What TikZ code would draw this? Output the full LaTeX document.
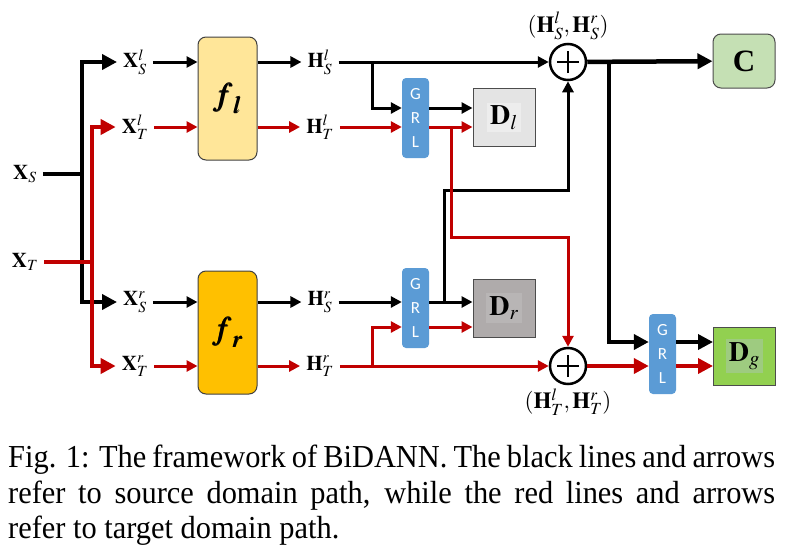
\documentclass[tikz,border=0pt]{standalone}
\usepackage{mathptmx}
\usepackage{bm}
\usepackage{fontspec}
\setmainfont{Liberation Serif}
\newfontfamily\grlfont{Carlito}
\newfontfamily\capfont[FakeStretch=0.95]{Liberation Serif}
\usetikzlibrary{arrows.meta}
\definecolor{tred}{HTML}{C00000}
\definecolor{flcol}{HTML}{FFE699}
\definecolor{frcol}{HTML}{FFC000}
\definecolor{grlcol}{HTML}{5B9BD5}
\definecolor{dlcol}{HTML}{E4E4E4}
\definecolor{dlin}{HTML}{EDEDED}
\definecolor{drcol}{HTML}{AFABAB}
\definecolor{drin}{HTML}{B8B5B5}
\definecolor{dgcol}{HTML}{92D050}
\definecolor{dgin}{HTML}{9ECB80}
\definecolor{ccol}{HTML}{C5E0B4}
\begin{document}
\begin{tikzpicture}
    [x=1pt, y=-1pt,
     lab/.style = {font=\fontsize{21}{25}\selectfont, inner xsep=6pt, inner ysep=2pt},
     sumlab/.style = {font=\fontsize{23}{27}\selectfont, inner sep=2pt},
     src/.style = {draw=black, line width=3pt},
     tgt/.style = {draw=tred, line width=3pt},
     srcthick/.style = {draw=black, line width=4.5pt},
     tgtthick/.style = {draw=tred, line width=4.5pt},
     arr/.style = {-{Triangle[length=11pt, width=11pt]}},
     bigarr/.style = {-{Triangle[length=15pt, width=15pt]}},
     fbox/.style = {draw=black!75, line width=1pt, rounded corners=8pt, minimum width=59pt, minimum height=123pt, inner sep=0pt, font=\fontsize{32}{32}\selectfont},
     grl/.style = {fill=grlcol, rounded corners=4pt, minimum width=27pt, minimum height=80pt, inner sep=0pt, text=white, align=center, font=\grlfont\fontsize{17}{24}\selectfont},
     dbox/.style = {draw=black!70, line width=1pt, minimum width=62pt, minimum height=58pt, inner sep=0pt},
     dlab/.style = {inner sep=3pt, font=\fontsize{28}{30}\selectfont},
     sum/.style = {circle, draw, line width=2.5pt, minimum size=36pt, inner sep=0pt,
        path picture={\draw[line width=2pt] (path picture bounding box.center) ++(-11pt,0) -- ++(22pt,0);
                      \draw[line width=2pt] (path picture bounding box.center) ++(0,-11pt) -- ++(0,22pt);}}]
    \useasboundingbox (0,0) rectangle (785,552);
    % inputs
    \node[lab] (XS) at (25,174) {$\mathbf{X}_S$};
    \node[lab] (XT) at (25,262) {$\mathbf{X}_T$};
    \node[lab] (XSl) at (135,62) {$\mathbf{X}_S^l$};
    \node[lab] (XTl) at (135,127) {$\mathbf{X}_T^l$};
    \node[lab] (XSr) at (135,302) {$\mathbf{X}_S^r$};
    \node[lab] (XTr) at (135,366) {$\mathbf{X}_T^r$};
    \coordinate (js) at (82,174);
    \coordinate (jt) at (92,262);
    % feature extractors
    \node[fbox, fill=flcol] (fl) at (227.5,98.5) {$\bm{f}_{\bm{l}}$};
    \node[fbox, fill=frcol] (fr) at (227.5,332.5) {$\bm{f}_{\bm{r}}$};
    \node[lab] (HSl) at (320,62) {$\mathbf{H}_S^l$};
    \node[lab] (HTl) at (320,127) {$\mathbf{H}_T^l$};
    \node[lab] (HSr) at (320,302) {$\mathbf{H}_S^r$};
    \node[lab] (HTr) at (320,366) {$\mathbf{H}_T^r$};
    % gradient reversal layers and discriminators
    \node[grl] (g1) at (415.5,118) {G\\R\\L};
    \node[grl] (g2) at (415.5,308) {G\\R\\L};
    \node[grl] (g3) at (662.5,354) {G\\R\\L};
    \node[dbox, fill=dlcol] (Dl) at (504,117.5) {};
    \node[dlab, fill=dlin] at (Dl) {$\mathbf{D}_l$};
    \node[dbox, fill=drcol] (Dr) at (504,308) {};
    \node[dlab, fill=drin] at (Dr) {$\mathbf{D}_r$};
    \node[dbox, fill=dgcol] (Dg) at (744.5,356) {};
    \node[dlab, fill=dgin] at (Dg) {$\mathbf{D}_g$};
    \node[sum, label={[sumlab, label distance=1pt]above:$(\mathbf{H}_S^l,\mathbf{H}_S^r)$}] (p1) at (568,62) {};
    \node[sum, label={[sumlab, label distance=1pt]below:$(\mathbf{H}_T^l,\mathbf{H}_T^r)$}] (p2) at (568,366) {};
    \node[draw=black!70, line width=1pt, fill=ccol, rounded corners=8pt, minimum width=62pt, minimum height=54pt, font=\fontsize{31}{31}\selectfont\bfseries] (C) at (744,61) {C};
    \coordinate (b1) at (372,62);
    \coordinate (b2) at (372,366);
    \coordinate (b3) at (609,62);
    \coordinate (r1) at (451,127);
    \coordinate (r2) at (451,237);
    \coordinate (k1) at (444,302);
    \coordinate (k2) at (444,190);
    \coordinate (g1s) at ([yshift=10pt]g1.west);
    \coordinate (g1so) at ([yshift=10pt]g1.east);
    \coordinate (g1to) at ([yshift=-9pt]g1.east);
    \coordinate (g2t) at ([yshift=-19pt]g2.west);
    \coordinate (g2to) at ([yshift=-19pt]g2.east);
    \coordinate (g3s) at ([yshift=12pt]g3.west);
    \coordinate (g3so) at ([yshift=12pt]g3.east);
    \coordinate (g3to) at ([yshift=-12pt]g3.east);
    % source paths
    \draw[srcthick] (XS) -- (js);
    \draw[srcthick, bigarr] (js) |- (XSl);
    \draw[srcthick, bigarr] (js) |- (XSr);
    \draw[src, arr] (XSl) -- (fl.west |- XSl);
    \draw[src, arr] (XSr) -- (fr.west |- XSr);
    \draw[src, arr] (fl.east |- HSl) -- (HSl);
    \draw[src, arr] (fr.east |- HSr) -- (HSr);
    \draw[src, arr] (HSl) -- (p1);
    \draw[src, arr] (b1) |- (g1s);
    \draw[src, arr] (g1so) -- (g1so -| Dl.west);
    \draw[src, arr] (HSr) -- (g2.west |- HSr);
    \draw[src, arr] (g2.east |- HSr) -- (Dr.west |- HSr);
    \draw[src, arr] (k1) -- (k2) -| (p1);
    \draw[srcthick, bigarr] (p1) -- (C);
    \draw[srcthick, bigarr] (b3) |- (g3s);
    \draw[src, line width=3.5pt, bigarr] (g3so) -- (g3so -| Dg.west);
    % target paths
    \draw[tgtthick] (XT) -- (jt);
    \draw[tgtthick, bigarr] (jt) |- (XTl);
    \draw[tgtthick, bigarr] (jt) |- (XTr);
    \draw[tgt, arr] (XTl) -- (fl.west |- XTl);
    \draw[tgt, arr] (XTr) -- (fr.west |- XTr);
    \draw[tgt, arr] (fl.east |- HTl) -- (HTl);
    \draw[tgt, arr] (fr.east |- HTr) -- (HTr);
    \draw[tgt, arr] (HTl) -- (g1.west |- HTl);
    \draw[tgt, arr] (g1to) -- (g1to -| Dl.west);
    \draw[tgt, arr] (r1) -- (r2) -| (p2);
    \draw[tgt, arr] (HTr) -- (p2);
    \draw[tgt, arr] (b2) |- (g2t);
    \draw[tgt, arr] (g2to) -- (g2to -| Dr.west);
    \draw[tgtthick, bigarr] (p2) -- (g3.west |- p2);
    \draw[tgt, line width=3.5pt, bigarr] (g3to) -- (g3to -| Dg.west);
    % caption
    \node[anchor=north west, text width=767pt, align=justify, inner sep=0pt,
          font=\capfont\fontsize{32}{35.5}\selectfont] (cap) at (8,445)
          {\hyphenpenalty=10000 Fig. 1: The framework of BiDANN. The black lines and arrows\linebreak refer to source domain path, while the red lines and arrows\linebreak refer to target domain path.};
\end{tikzpicture}
\end{document}
